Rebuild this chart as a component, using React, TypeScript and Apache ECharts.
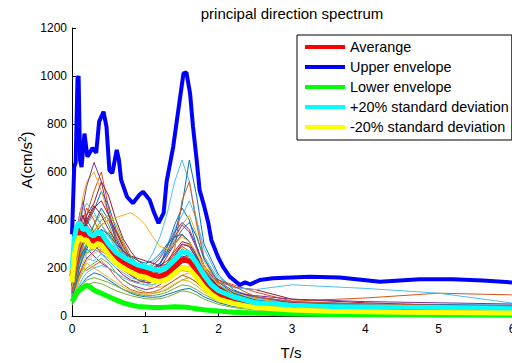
import React, { useEffect, useRef } from "react";
import * as echarts from "echarts";

// Period grid of the individual record spectra (s)
const periods = [0, 0.05, 0.1, 0.15, 0.2, 0.3, 0.4, 0.5, 0.6, 0.7, 0.8, 0.9, 1.0, 1.1, 1.2, 1.3, 1.4, 1.5, 1.6, 1.7, 1.8, 2.0, 2.2, 2.5, 3.0, 4.0, 5.0, 6.0];

// Individual record spectra (cm/s^2)
const rec01 = [150, 260, 380, 420, 360, 300, 340, 280, 220, 200, 190, 170, 160, 170, 210, 290, 380, 450, 400, 290, 200, 120, 80, 55, 40, 30, 25, 20];
const rec02 = [110, 200, 300, 350, 420, 520, 600, 450, 300, 250, 220, 200, 180, 160, 170, 190, 230, 280, 260, 200, 140, 90, 60, 40, 30, 25, 20, 18];
const rec03 = [130, 230, 280, 330, 380, 420, 380, 330, 300, 260, 230, 200, 190, 200, 220, 260, 320, 380, 420, 340, 230, 130, 85, 58, 40, 30, 22, 18];
const rec04 = [90, 160, 230, 260, 280, 250, 220, 200, 180, 150, 130, 120, 110, 115, 130, 160, 200, 240, 260, 240, 190, 120, 90, 65, 50, 40, 35, 30];
const rec05 = [120, 210, 330, 300, 260, 280, 320, 350, 300, 230, 190, 160, 140, 130, 140, 160, 180, 200, 190, 160, 120, 75, 52, 38, 28, 22, 18, 15];
const rec06 = [140, 230, 300, 280, 240, 230, 260, 240, 210, 190, 180, 190, 210, 260, 330, 430, 560, 650, 560, 400, 250, 150, 100, 75, 55, 45, 38, 32];
const rec07 = [100, 180, 250, 320, 350, 300, 260, 230, 200, 170, 150, 140, 150, 170, 200, 250, 300, 340, 310, 250, 190, 150, 120, 110, 70, 55, 45, 40];
const rec08 = [80, 140, 200, 250, 300, 380, 450, 400, 320, 260, 220, 190, 170, 160, 160, 170, 190, 220, 230, 210, 170, 120, 100, 80, 60, 50, 48, 45];
const rec09 = [120, 220, 340, 400, 450, 400, 330, 280, 240, 200, 170, 150, 140, 145, 160, 180, 210, 240, 250, 230, 190, 150, 130, 100, 62, 75, 95, 88];
const rec10 = [70, 120, 180, 220, 260, 300, 330, 310, 270, 220, 180, 150, 130, 120, 120, 130, 150, 170, 180, 160, 130, 90, 70, 50, 35, 25, 20, 15];
const rec11 = [160, 280, 420, 480, 400, 350, 300, 260, 220, 190, 170, 160, 170, 190, 220, 270, 330, 380, 350, 280, 210, 140, 105, 80, 55, 45, 40, 38];
const rec12 = [60, 100, 150, 180, 200, 220, 240, 220, 180, 150, 130, 110, 100, 95, 100, 110, 130, 150, 160, 140, 110, 70, 50, 35, 25, 18, 15, 12];
const rec13 = [100, 170, 240, 280, 300, 330, 380, 340, 280, 230, 200, 190, 200, 220, 250, 300, 360, 420, 480, 400, 280, 160, 118, 110, 130, 115, 95, 54];
const rec14 = [130, 240, 360, 420, 380, 340, 360, 300, 250, 220, 200, 180, 170, 170, 180, 200, 230, 270, 250, 210, 160, 110, 80, 65, 55, 45, 40, 35];
const rec15 = [110, 190, 260, 320, 380, 440, 520, 460, 360, 280, 230, 200, 180, 190, 220, 270, 340, 460, 650, 500, 300, 170, 110, 70, 50, 42, 40, 38];
const rec16 = [90, 160, 230, 270, 300, 340, 380, 400, 360, 300, 250, 210, 190, 180, 190, 220, 280, 480, 560, 380, 240, 130, 90, 60, 40, 30, 25, 20];
const rec17 = [150, 270, 400, 500, 560, 600, 520, 420, 340, 280, 240, 210, 190, 180, 190, 200, 220, 240, 230, 200, 160, 105, 78, 55, 40, 30, 25, 22];
const rec18 = [70, 120, 170, 210, 240, 270, 300, 280, 240, 200, 170, 150, 140, 140, 150, 170, 200, 230, 220, 190, 150, 110, 95, 85, 70, 60, 55, 50];
const rec19 = [100, 180, 260, 300, 330, 380, 430, 380, 300, 240, 200, 170, 150, 140, 140, 150, 170, 190, 200, 180, 140, 95, 70, 50, 35, 28, 22, 18];
const rec20 = [85, 150, 210, 250, 270, 280, 260, 230, 200, 180, 160, 150, 150, 160, 170, 190, 220, 240, 230, 200, 160, 110, 85, 68, 50, 40, 35, 30];
const rec21 = [120, 220, 330, 380, 420, 470, 560, 500, 400, 320, 270, 230, 210, 200, 210, 230, 270, 310, 300, 250, 180, 125, 92, 68, 50, 40, 35, 32];
const rec22 = [60, 90, 120, 140, 160, 180, 170, 150, 130, 110, 95, 85, 80, 78, 80, 90, 100, 110, 115, 100, 80, 55, 40, 30, 20, 15, 12, 10];
const rec23 = [80, 130, 180, 200, 190, 210, 230, 200, 160, 130, 110, 100, 95, 100, 110, 130, 150, 170, 160, 140, 110, 75, 55, 40, 28, 20, 16, 14];
const rec24 = [70, 110, 160, 190, 220, 200, 180, 160, 140, 120, 105, 95, 90, 92, 100, 115, 135, 150, 145, 125, 100, 68, 48, 35, 25, 18, 14, 12];
const rec25 = [90, 170, 260, 310, 350, 330, 300, 280, 260, 240, 220, 210, 200, 210, 240, 290, 350, 390, 360, 290, 210, 130, 90, 60, 42, 32, 26, 22];
const rec26 = [50, 80, 110, 130, 150, 160, 150, 140, 125, 110, 100, 90, 85, 85, 90, 100, 115, 130, 125, 110, 90, 60, 45, 32, 22, 16, 13, 10];
const rec27 = [140, 250, 380, 440, 470, 430, 380, 330, 290, 250, 220, 200, 180, 170, 175, 190, 220, 260, 270, 240, 190, 130, 95, 70, 50, 40, 34, 30];
const rec28 = [100, 180, 270, 340, 400, 460, 420, 360, 310, 270, 250, 240, 230, 220, 210, 215, 240, 270, 260, 220, 170, 110, 80, 58, 42, 33, 28, 24];
const rec29 = [75, 130, 200, 240, 280, 330, 360, 340, 300, 270, 250, 230, 220, 230, 260, 300, 330, 340, 310, 250, 180, 110, 75, 52, 38, 28, 23, 20];
const rec30 = [110, 200, 300, 330, 310, 290, 270, 250, 240, 230, 220, 210, 195, 180, 170, 165, 175, 190, 185, 165, 135, 95, 70, 50, 36, 28, 22, 18];
const rec31 = [65, 110, 160, 200, 230, 260, 280, 270, 250, 220, 190, 170, 160, 165, 180, 210, 250, 290, 300, 270, 210, 140, 100, 72, 50, 38, 32, 28];
const rec32 = [125, 230, 350, 380, 340, 310, 290, 270, 250, 220, 190, 170, 155, 150, 160, 180, 210, 250, 240, 200, 150, 100, 75, 55, 40, 32, 27, 23];
const rec33 = [85, 150, 220, 260, 300, 350, 400, 420, 380, 310, 250, 210, 180, 165, 160, 165, 180, 200, 195, 175, 140, 100, 75, 55, 40, 30, 25, 22];
const rec34 = [55, 90, 130, 160, 180, 200, 210, 200, 180, 160, 145, 135, 130, 130, 140, 160, 185, 210, 205, 180, 140, 90, 65, 45, 32, 24, 20, 16];
const rec35 = [130, 240, 340, 360, 390, 450, 480, 420, 350, 290, 240, 210, 190, 185, 195, 220, 260, 300, 290, 240, 180, 120, 85, 60, 45, 36, 30, 26];
const rec36 = [95, 160, 230, 270, 290, 310, 330, 300, 260, 230, 210, 200, 195, 200, 220, 260, 310, 360, 390, 330, 240, 140, 95, 66, 48, 38, 32, 28];
const rec37 = [100, 170, 240, 290, 330, 310, 280, 250, 220, 200, 185, 175, 170, 175, 190, 220, 260, 290, 270, 230, 190, 140, 125, 80, 60, 50, 45, 42];
const rec38 = [120, 200, 280, 320, 340, 360, 380, 400, 410, 420, 430, 410, 380, 330, 290, 280, 300, 330, 310, 260, 200, 130, 90, 62, 45, 35, 30, 26];
const rec39 = [140, 250, 380, 460, 540, 640, 560, 420, 330, 270, 230, 200, 180, 175, 185, 210, 250, 300, 290, 240, 180, 115, 82, 58, 42, 33, 28, 24];
const rec40 = [45, 70, 95, 115, 130, 140, 135, 120, 105, 95, 85, 78, 72, 70, 72, 80, 92, 105, 100, 88, 70, 48, 35, 25, 17, 12, 10, 8];

const records = [rec01, rec02, rec03, rec04, rec05, rec06, rec07, rec08, rec09, rec10, rec11, rec12, rec13, rec14, rec15, rec16, rec17, rec18, rec19, rec20, rec21, rec22, rec23, rec24, rec25, rec26, rec27, rec28, rec29, rec30, rec31, rec32, rec33, rec34, rec35, rec36, rec37, rec38, rec39, rec40];
const recordColors = ["#0072BD", "#D95319", "#EDB120", "#7E2F8E", "#77AC30", "#4DBEEE", "#A2142F"];

// Statistic curves
const statT = [0, 0.03, 0.06, 0.1, 0.15, 0.2, 0.25, 0.3, 0.35, 0.4, 0.5, 0.6, 0.7, 0.8, 0.9, 1.0, 1.1, 1.2, 1.3, 1.4, 1.5, 1.6, 1.7, 1.8, 1.9, 2.0, 2.2, 2.5, 3.0, 3.5, 4.0, 4.5, 5.0, 5.5, 6.0];
const averageA = [165, 285, 335, 360, 335, 340, 315, 312, 325, 320, 278, 243, 222, 205, 190, 183, 170, 165, 178, 205, 235, 228, 190, 145, 110, 88, 65, 45, 35, 30, 28, 26, 25, 23, 21];
const plus20A = [190, 320, 370, 390, 360, 365, 340, 335, 350, 345, 300, 265, 245, 228, 212, 205, 195, 190, 205, 235, 268, 262, 220, 170, 130, 105, 80, 55, 45, 40, 38, 36, 35, 33, 30];
const minus20A = [140, 250, 300, 330, 315, 318, 292, 290, 302, 296, 255, 220, 200, 183, 168, 162, 148, 143, 152, 178, 202, 195, 160, 120, 90, 70, 52, 35, 25, 20, 18, 16, 15, 14, 12];
const lowerA = [60, 75, 95, 108, 118, 128, 120, 108, 100, 95, 80, 67, 55, 46, 40, 38, 35, 35, 37, 39, 38, 35, 30, 26, 23, 21, 16, 12, 8, 6, 5, 5, 4, 4, 3];

const upperT = [0, 0.03, 0.05, 0.075, 0.09, 0.11, 0.13, 0.17, 0.21, 0.28, 0.33, 0.37, 0.43, 0.47, 0.51, 0.55, 0.61, 0.64, 0.67, 0.75, 0.83, 0.92, 0.97, 1.06, 1.12, 1.18, 1.25, 1.29, 1.38, 1.45, 1.52, 1.56, 1.61, 1.65, 1.7, 1.74, 1.8, 1.86, 1.9, 1.99, 2.06, 2.15, 2.29, 2.36, 2.43, 2.56, 2.74, 3.24, 3.65, 4.2, 4.74, 5.19, 5.6, 6.0];
const upperA = [340, 620, 640, 990, 1000, 650, 620, 760, 664, 700, 680, 810, 851, 789, 608, 595, 692, 650, 567, 497, 470, 505, 518, 483, 430, 387, 430, 560, 705, 858, 1011, 1015, 928, 789, 650, 525, 460, 386, 317, 247, 205, 164, 129, 140, 132, 150, 157, 164, 160, 143, 153, 153, 148, 140];

const xTicks = [0, 1, 2, 3, 4, 5, 6];
const yTicks = [0, 200, 400, 600, 800, 1000, 1200];

const FONT = "'Liberation Sans', Arial, Helvetica, sans-serif";

function pairs(xs: number[], ys: number[]) {
  return xs.map((x, i) => [x, ys[i]]);
}

export default function App() {
  const ref = useRef<HTMLDivElement>(null);

  useEffect(() => {
    if (!ref.current) return;
    const chart = echarts.init(ref.current, null, { renderer: "svg" });

    const thinSeries = records.map((rec, i) => ({
      name: "rec" + (i + 1),
      type: "line",
      data: pairs(periods, rec),
      showSymbol: false,
      symbol: "none",
      lineStyle: { width: 1, color: recordColors[i % recordColors.length] },
      itemStyle: { color: recordColors[i % recordColors.length] },
      silent: true,
      z: 2,
    }));

    const thick = (name: string, xs: number[], ys: number[], color: string, width: number, z: number) => ({
      name,
      type: "line",
      data: pairs(xs, ys),
      showSymbol: false,
      symbol: "none",
      lineStyle: { width, color },
      itemStyle: { color },
      z,
    });

    const option: any = {
      animation: false,
      backgroundColor: "#fff",
      textStyle: { fontFamily: FONT },
      grid: { left: 72, right: 0, top: 28, bottom: 47, containLabel: false, outerBoundsMode: "none" },
      xAxis: {
        type: "value",
        min: xTicks[0],
        max: xTicks[xTicks.length - 1],
        interval: 1,
        splitLine: { show: false },
        axisLine: { lineStyle: { color: "#000", width: 1 } },
        axisTick: { inside: true, length: 4, lineStyle: { color: "#000" } },
        axisLabel: { color: "#000", fontSize: 12, margin: 7, fontFamily: FONT, formatter: (v: number) => String(v) },
      },
      yAxis: {
        type: "value",
        min: yTicks[0],
        max: yTicks[yTicks.length - 1],
        interval: 200,
        splitLine: { show: false },
        axisLine: { show: true, lineStyle: { color: "#000", width: 1 } },
        axisTick: { show: true, inside: true, length: 4, lineStyle: { color: "#000" } },
        axisLabel: { color: "#000", fontSize: 12, margin: 5, fontFamily: FONT, formatter: (v: number) => String(v) },
      },
      legend: {
        data: ["Averange", "Upper envelope", "Lower envelope", "+20% standard deviation", "-20% standard deviation"],
        orient: "vertical",
        left: 297,
        top: 35,
        icon: "rect",
        itemWidth: 40,
        itemHeight: 4,
        itemGap: 6,
        padding: [5, 3, 6, 8],
        borderColor: "#000",
        borderWidth: 1,
        backgroundColor: "#fff",
        selectedMode: false,
        textStyle: { color: "#000", fontSize: 14.4, fontFamily: FONT },
        z: 10,
      },
      graphic: [
        {
          type: "text",
          x: 292,
          y: 13,
          style: { text: "principal direction spectrum", fontSize: 15, fontFamily: FONT, fill: "#000", align: "center", verticalAlign: "middle" },
        },
        {
          type: "text",
          x: 291,
          y: 352,
          style: { text: "T/s", fontSize: 15, fontFamily: FONT, fill: "#000", align: "center", verticalAlign: "middle" },
        },
        {
          type: "text",
          x: 25,
          y: 160,
          rotation: Math.PI / 2,
          style: {
            text: "{a|A(cm/s}{b|2}{a|)}",
            align: "center",
            verticalAlign: "middle",
            fill: "#000",
            rich: {
              a: { fontSize: 15, fontFamily: FONT, fill: "#000", verticalAlign: "bottom", lineHeight: 18 },
              b: { fontSize: 10, fontFamily: FONT, fill: "#000", verticalAlign: "bottom", lineHeight: 18, padding: [0, 0, 7, 0] },
            },
          },
        },
      ],
      series: [
        ...thinSeries,
        thick("Averange", statT, averageA, "#FF0000", 5, 3),
        thick("Upper envelope", upperT, upperA, "#0000FF", 4, 4),
        thick("Lower envelope", statT, lowerA, "#00FF00", 5, 5),
        thick("+20% standard deviation", statT, plus20A, "#00FFFF", 5, 6),
        thick("-20% standard deviation", statT, minus20A, "#FFFF00", 5, 7),
      ],
    };

    chart.setOption(option);
    return () => chart.dispose();
  }, []);

  return <div ref={ref} style={{ position: "absolute", left: 0, top: 0, width: 512, height: 363 }} />;
}
